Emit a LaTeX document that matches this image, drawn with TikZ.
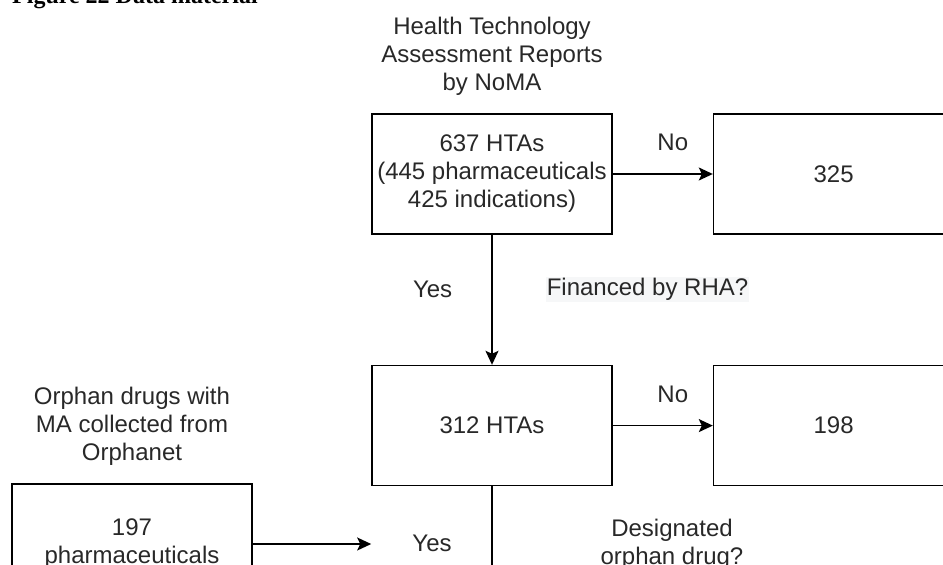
\documentclass[tikz,border=0pt]{standalone}
\usepackage{fontspec}
\setmainfont{Liberation Sans}
\newfontfamily\titlefont{Liberation Serif}
\usepackage{tikz}
\usetikzlibrary{arrows.meta,positioning}
\definecolor{ink}{RGB}{40,40,40}
\definecolor{bgfill}{RGB}{246,247,248}

\begin{document}
\begin{tikzpicture}[x=1pt, y=-1pt, node distance={100pt},
    main/.style = {draw, line width=1.6pt, minimum width=240pt, minimum height=120pt, inner sep=2pt, align=center, text=ink, font=\fontsize{24}{28}\selectfont},
    lbl/.style = {inner sep=0pt, align=center, text=ink, font=\fontsize{24}{28}\selectfont},
    conn/.style = {line width=1.6pt, -{Stealth[length=14pt,width=13pt,inset=3pt]}}]
    \useasboundingbox (0,0) rectangle (943,565);
    \clip (0,0) rectangle (943,565);

    \node[anchor=base west, inner sep=0pt, font=\titlefont\bfseries\fontsize{24}{28}\selectfont] (fig) at (12,3.5) {Figure 22 Data material};

    \node[main] (H637) at (492,174) {637 HTAs\\(445 pharmaceuticals\\425 indications)};
    \node[main] (N325) [right=of H637] {325};
    \node[main] (H312) [below=130pt of H637] {312 HTAs};
    \node[main] (N198) [right=of H312] {198};
    \node[main] (O197) at (132,544) {197\\pharmaceuticals};

    \node[lbl] (hta) [above=18pt of H637] {Health Technology\\Assessment Reports\\by NoMA};
    \node[lbl] (orpha) [above=18pt of O197] {Orphan drugs with\\MA collected from\\Orphanet};

    \draw[conn] (H637) -- node[lbl, above=22pt, pos=0.6] {No} (N325);
    \draw[conn] (H637) -- node[lbl, left=39pt, pos=0.42] {Yes}
        node[lbl, right=53pt, pos=0.42, fill=bgfill, inner sep=1pt] {Financed by RHA?} (H312);
    \draw[conn] (H312) -- node[lbl, above=22pt, pos=0.6] {No} (N198);

    % edge going on below the page
    \coordinate (down) at (492,640);
    \draw[line width=1.6pt] (H312) -- (down);
    \node[lbl] (yes2) at (432,543) {Yes};
    \node[lbl] (desig) at (672,544) {Designated\\orphan drug?};

    \coordinate (yesin) at (H312.west |- O197.east);
    \draw[conn] (O197) -- (yesin);
\end{tikzpicture}
\end{document}
